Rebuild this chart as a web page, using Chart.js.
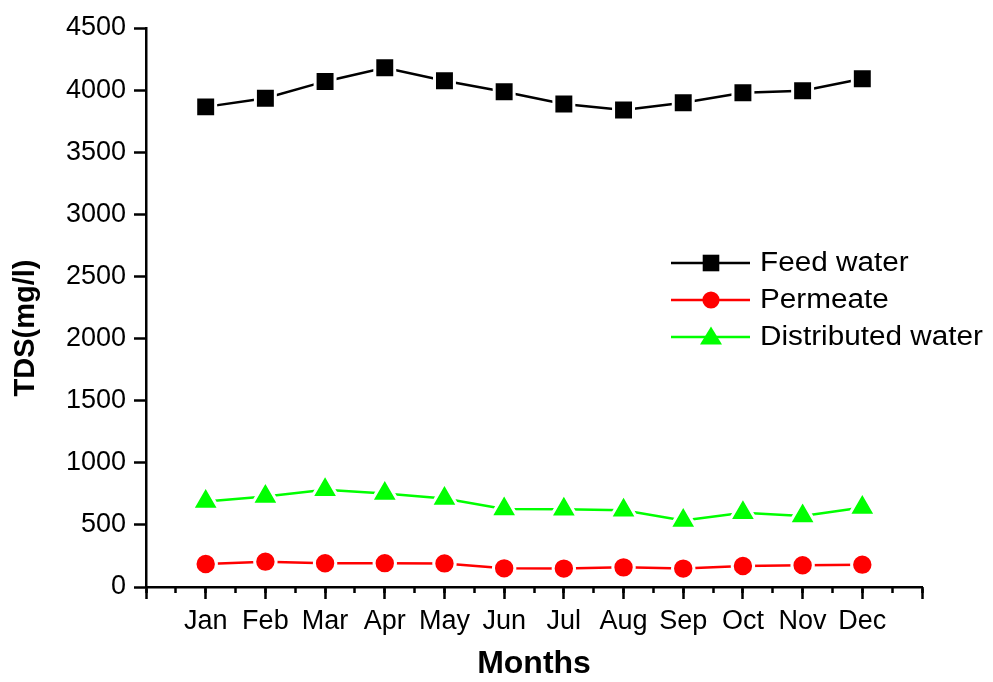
<!DOCTYPE html>
<html>
<head>
<meta charset="utf-8">
<script src="https://cdn.jsdelivr.net/npm/chart.js@4/dist/chart.umd.min.js"></script>
<style>
  html, body { margin: 0; padding: 0; background: #ffffff; }
  #wrap { width: 993px; height: 682px; }
</style>
</head>
<body>
<div id="wrap"><canvas id="c" width="993" height="682"></canvas></div>
<script>
// Monthly TDS readings (mg/l)
const months = ['Jan', 'Feb', 'Mar', 'Apr', 'May', 'Jun', 'Jul', 'Aug', 'Sep', 'Oct', 'Nov', 'Dec'];
const feedWater = [3865, 3935, 4070, 4180, 4075, 3987, 3888, 3840, 3898, 3978, 3995, 4092];
const permeate = [185, 204, 191, 192, 190, 150, 148, 158, 148, 169, 175, 180];
const distributedWater = [688, 728, 782, 752, 712, 628, 625, 618, 535, 598, 572, 640];
const yTicks = [0, 500, 1000, 1500, 2000, 2500, 3000, 3500, 4000, 4500];

const FONT = '"Liberation Sans", Arial, Helvetica, sans-serif';

function toPoints(values) {
  return values.map((v, i) => ({ x: i + 1, y: v }));
}

const seriesStyle = [
  { label: 'Feed water', values: feedWater, color: '#000000', pointStyle: 'rect', radius: 14.1 },
  { label: 'Permeate', values: permeate, color: '#ff0000', pointStyle: 'circle', radius: 10.7 },
  { label: 'Distributed water', values: distributedWater, color: '#00ff00', pointStyle: 'triangle', radius: 15.5 }
];

// Legend drawn inside the plot, Origin style: line segment with marker in the middle
const insideLegend = {
  id: 'insideLegend',
  afterDraw(chart) {
    const ctx = chart.ctx;
    const rows = [263, 300, 337];
    chart.data.datasets.forEach((ds, i) => {
      const y = rows[i];
      ctx.save();
      ctx.strokeStyle = ds.borderColor;
      ctx.lineWidth = 2.5;
      ctx.beginPath();
      ctx.moveTo(671, y);
      ctx.lineTo(750, y);
      ctx.stroke();
      ctx.fillStyle = ds.borderColor;
      ctx.beginPath();
      if (ds.pointStyle === 'rect') {
        ctx.rect(711 - 8.3, y - 8.3, 16.6, 16.6);
      } else if (ds.pointStyle === 'circle') {
        ctx.arc(711, y, 8.6, 0, Math.PI * 2);
      } else {
        ctx.moveTo(711, y - 10.5);
        ctx.lineTo(722, y + 7.5);
        ctx.lineTo(700, y + 7.5);
        ctx.closePath();
      }
      ctx.fill();
      ctx.fillStyle = '#000000';
      ctx.font = '27px ' + FONT;
      ctx.textBaseline = 'middle';
      ctx.textAlign = 'left';
      ctx.translate(760, y + 1);
      ctx.scale(1.1, 1);
      ctx.fillText(ds.label, 0, 0);
      ctx.restore();
    });
  }
};

// Rotated y-axis title
const yTitle = {
  id: 'yTitle',
  afterDraw(chart) {
    const ctx = chart.ctx;
    ctx.save();
    ctx.translate(26, 328);
    ctx.rotate(-Math.PI / 2);
    ctx.fillStyle = '#000000';
    ctx.font = 'bold 29px ' + FONT;
    ctx.textAlign = 'center';
    ctx.textBaseline = 'middle';
    ctx.fillText('TDS(mg/l)', 0, 0);
    ctx.restore();
  }
};

const axisGrid = (len) => ({
  drawOnChartArea: false,
  drawTicks: true,
  tickLength: len,
  tickWidth: 2.5,
  tickColor: '#000000'
});

new Chart(document.getElementById('c'), {
  type: 'line',
  data: {
    datasets: seriesStyle.map(s => ({
      label: s.label,
      data: toPoints(s.values),
      borderColor: s.color,
      backgroundColor: s.color,
      borderWidth: 2.5,
      pointStyle: s.pointStyle,
      pointRadius: s.radius,
      pointHoverRadius: s.radius,
      pointBackgroundColor: s.color,
      pointBorderColor: '#ffffff',
      pointBorderWidth: 3,
      tension: 0,
      fill: false
    }))
  },
  options: {
    responsive: false,
    animation: false,
    devicePixelRatio: 1,
    layout: { padding: { left: 0, top: 28, right: 71, bottom: 0 } },
    plugins: {
      legend: { display: false },
      tooltip: { enabled: false }
    },
    scales: {
      xMinor: {
        type: 'linear',
        position: 'bottom',
        weight: 0,
        min: 0,
        max: 13,
        grid: axisGrid(6),
        border: { display: false },
        ticks: { display: false, stepSize: 0.5, autoSkip: false },
        afterFit(scale) { scale.height = 0; }
      },
      x: {
        type: 'linear',
        position: 'bottom',
        weight: 1,
        min: 0,
        max: 13,
        grid: axisGrid(12),
        border: { display: true, color: '#000000', width: 2.5 },
        ticks: {
          stepSize: 1,
          autoSkip: false,
          maxRotation: 0,
          padding: 6,
          color: '#000000',
          font: { family: FONT, size: 27 },
          callback: (v) => (Number.isInteger(v) && v >= 1 && v <= 12) ? months[v - 1] : ''
        },
        title: {
          display: true,
          text: 'Months',
          color: '#000000',
          font: { family: FONT, size: 32, weight: 'bold', lineHeight: 1.1 },
          padding: 0
        },
        afterFit(scale) { scale.height = 95; }
      },
      y: {
        type: 'linear',
        position: 'left',
        min: 0,
        max: 4500,
        grid: axisGrid(12),
        border: { display: true, color: '#000000', width: 2.5 },
        afterBuildTicks(scale) { scale.ticks = yTicks.map(v => ({ value: v })); },
        ticks: {
          padding: 8,
          color: '#000000',
          font: { family: FONT, size: 27 },
          callback: (v) => String(v)
        },
        afterFit(scale) { scale.width = 146; }
      }
    }
  },
  plugins: [insideLegend, yTitle]
});
</script>
</body>
</html>
